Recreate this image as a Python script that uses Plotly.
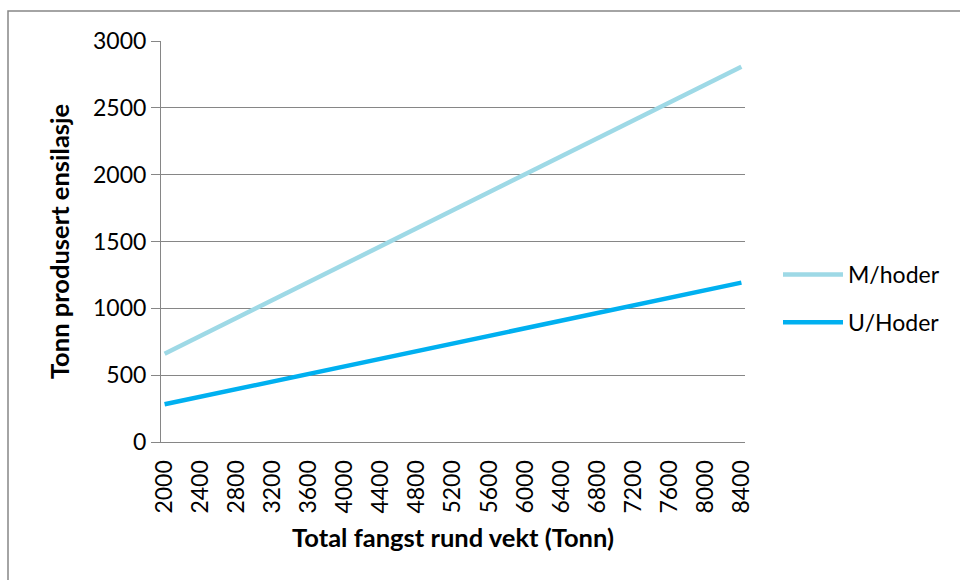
import plotly.graph_objects as go

categories = ["2000", "2400", "2800", "3200", "3600", "4000", "4400", "4800", "5200",
              "5600", "6000", "6400", "6800", "7200", "7600", "8000", "8400"]
m_hoder = [660, 794, 929, 1063, 1197, 1331, 1466, 1600, 1734, 1868, 2003, 2137, 2271,
           2405, 2540, 2674, 2808]
u_hoder = [282, 339, 396, 453, 510, 566, 623, 680, 737, 794, 851, 908, 965, 1022,
           1078, 1135, 1192]
y_ticks = [0, 500, 1000, 1500, 2000, 2500, 3000]

FONT = "Lato"
GRID = "#868686"

fig = go.Figure()
fig.add_trace(go.Scatter(x=categories, y=m_hoder, mode="lines", name="M/hoder",
                         legendgroup="m",
                         line=dict(color="#9ED9E6", width=4.5)))
fig.add_trace(go.Scatter(x=categories, y=u_hoder, mode="lines", name="U/Hoder",
                         legendgroup="u",
                         line=dict(color="#00B0F0", width=4.5)))

L, R, T, B = 161, 215, 41, 138
W, H = 960, 580
pw, ph = W - L - R, H - T - B

fig.update_layout(
    width=W, height=H,
    margin=dict(l=L, r=R, t=T, b=B, pad=0),
    paper_bgcolor="white", plot_bgcolor="white",
    font=dict(family=FONT, size=23, color="black"),
    showlegend=True,
    legend=dict(x=(778 - L) / pw, xanchor="left", y=(T + ph - 253) / ph, yanchor="top",
                bgcolor="rgba(0,0,0,0)", font=dict(size=23, family=FONT),
                tracegroupgap=15, itemwidth=60),
    xaxis=dict(type="category", range=[-0.1, 16.1], showgrid=False, zeroline=False,
               showline=True, linecolor=GRID, linewidth=1,
               ticks="outside", ticklen=8, tickcolor="rgba(0,0,0,0)",
               tickangle=-90, tickfont=dict(size=23, family=FONT),
               title=dict(text="<b>Total fangst rund vekt (Tonn)</b>",
                          font=dict(size=25.5, family=FONT), standoff=16)),
    yaxis=dict(range=[0, 3000], tickvals=y_ticks, showgrid=True, gridcolor=GRID,
               gridwidth=1, zeroline=False, showline=True, linecolor=GRID,
               linewidth=1, ticks="outside", ticklen=9, tickcolor=GRID,
               tickfont=dict(size=23, family=FONT),
               title=dict(text="<b>Tonn produsert ensilasje</b>",
                          font=dict(size=25.5, family=FONT), standoff=16)),
    shapes=[dict(type="rect", xref="paper", yref="paper",
                 x0=(8 - L) / pw, x1=(970 - L) / pw,
                 y0=(T + ph - 590) / ph, y1=(T + ph - 11) / ph,
                 line=dict(color=GRID, width=1.5), fillcolor="rgba(0,0,0,0)",
                 layer="below")],
)

fig.write_html("out.html", config={"displayModeBar": False},
               post_script="document.body.style.margin='0';")
